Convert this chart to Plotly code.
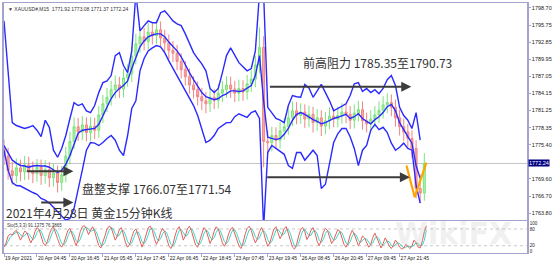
import plotly.graph_objects as go

# ---------------- data (XAUUSD M15, 19-27 Apr 2021) ----------------
# Bollinger bands sampled every 6 M15 bars
bb_upper = [1796.5, 1787.2, 1779.2, 1778.7, 1778.4, 1778.2, 1778.4, 1778.7, 1777.9, 1776.8,
            1779.6, 1778.4, 1774.5, 1773.3, 1774.8, 1777.0, 1779.9, 1782.6, 1782.1, 1782.4,
            1781.2, 1780.9, 1782.1, 1784.3, 1786.0, 1786.3, 1787.2, 1790.6, 1791.1, 1788.9,
            1787.7, 1791.4, 1801.2, 1794.8, 1795.7, 1796.5, 1796.2, 1796.2, 1797.9, 1798.2,
            1797.4, 1796.5, 1796.0, 1795.7, 1794.3, 1792.8, 1791.1, 1790.1, 1789.2, 1788.0,
            1785.0, 1784.3, 1785.0, 1787.7, 1790.6, 1791.9, 1790.6, 1789.4, 1788.7, 1788.0,
            1788.4, 1791.4, 1801.2, 1801.2, 1781.8, 1780.9, 1779.9, 1779.6, 1779.2, 1782.1,
            1783.8, 1783.6, 1783.5, 1785.7, 1785.1, 1783.5, 1784.6, 1785.7, 1784.3, 1782.9,
            1781.2, 1781.6, 1782.1, 1782.4, 1783.8, 1785.8, 1786.0, 1784.5, 1785.0, 1784.3,
            1784.8, 1784.1, 1785.0, 1786.5, 1787.2, 1785.5, 1781.8, 1780.4, 1779.6, 1778.2,
            1780.9, 1776.2]
bb_middle = [1775.3, 1774.1, 1772.8, 1772.3, 1771.9, 1771.8, 1771.6, 1771.8, 1771.9, 1771.8,
             1771.8, 1771.6, 1771.1, 1770.7, 1771.1, 1772.1, 1773.6, 1775.7, 1777.4, 1777.9,
             1778.0, 1778.0, 1778.2, 1778.9, 1780.4, 1782.1, 1783.3, 1784.3, 1785.0, 1785.5,
             1786.3, 1788.4, 1790.1, 1792.1, 1793.1, 1793.8, 1794.1, 1794.3, 1794.3, 1793.8,
             1792.9, 1792.1, 1791.4, 1790.4, 1789.0, 1787.7, 1786.5, 1785.3, 1784.3, 1783.6,
             1783.3, 1783.1, 1783.3, 1783.8, 1784.1, 1784.6, 1784.6, 1784.5, 1784.6, 1785.0,
             1785.5, 1787.2, 1790.6, 1782.9, 1776.7, 1776.5, 1776.3, 1776.5, 1777.2, 1778.2,
             1779.6, 1780.6, 1780.9, 1780.6, 1780.1, 1779.7, 1779.4, 1779.0, 1779.2, 1779.6,
             1779.9, 1780.1, 1780.4, 1780.6, 1779.9, 1780.2, 1780.7, 1779.9, 1779.4, 1779.0,
             1779.7, 1780.2, 1780.9, 1781.9, 1782.3, 1781.2, 1779.2, 1777.9, 1776.8, 1775.7,
             1771.9, 1769.7]
bb_lower = [1774.5, 1771.1, 1769.0, 1768.5, 1768.4, 1768.0, 1767.7, 1767.3, 1767.0, 1766.3,
            1766.0, 1765.5, 1764.8, 1764.0, 1763.3, 1762.6, 1762.9, 1764.6, 1767.7, 1771.1,
            1774.5, 1775.8, 1775.7, 1775.3, 1775.8, 1776.5, 1777.0, 1776.2, 1774.5, 1773.6,
            1777.0, 1781.6, 1782.9, 1788.0, 1790.1, 1791.4, 1791.9, 1792.3, 1792.1, 1791.1,
            1789.7, 1788.4, 1787.2, 1786.0, 1784.6, 1783.3, 1782.1, 1780.4, 1778.2, 1775.8,
            1776.2, 1777.0, 1778.2, 1778.7, 1779.2, 1779.2, 1780.2, 1780.7, 1780.4, 1780.1,
            1780.9, 1781.2, 1779.9, 1761.2, 1774.1, 1775.3, 1774.8, 1774.3, 1773.8, 1771.9,
            1771.4, 1774.1, 1774.1, 1772.8, 1773.6, 1774.5, 1773.6, 1768.0, 1768.7, 1772.4,
            1775.8, 1777.3, 1778.2, 1778.2, 1776.8, 1774.8, 1771.9, 1774.5, 1775.3, 1777.9,
            1778.9, 1778.0, 1778.4, 1777.5, 1775.7, 1774.5, 1775.0, 1775.7, 1774.8, 1774.5,
            1768.5, 1765.5]

# candles sampled every 6 M15 bars (high/low = range of each 6-bar group)
c_open = [1774.8, 1773.5, 1771.0, 1770.2, 1771.5, 1770.8, 1772.0, 1771.0, 1770.5, 1771.6,
          1770.2, 1771.2, 1769.8, 1770.6, 1769.0, 1770.3, 1773.5, 1776.0, 1778.5, 1777.6,
          1778.8, 1777.5, 1778.6, 1777.9, 1780.5, 1782.4, 1783.5, 1784.8, 1785.6, 1784.9,
          1786.8, 1787.5, 1790.5, 1792.6, 1793.8, 1793.0, 1794.6, 1794.0, 1795.0, 1793.6,
          1792.8, 1791.5, 1791.0, 1789.6, 1788.2, 1787.0, 1785.6, 1784.8, 1783.6, 1782.9,
          1782.4, 1783.5, 1783.0, 1784.2, 1784.8, 1785.6, 1784.9, 1784.2, 1785.0, 1784.4,
          1785.8, 1786.6, 1789.0, 1792.0, 1776.0, 1775.8, 1777.0, 1776.2, 1777.8, 1778.5,
          1780.0, 1781.2, 1780.4, 1781.0, 1779.8, 1780.6, 1779.2, 1780.0, 1778.6, 1779.5,
          1780.3, 1779.8, 1780.4, 1781.0, 1780.6, 1779.6, 1780.8, 1781.4, 1779.5, 1779.0,
          1779.8, 1780.5, 1781.3, 1782.2, 1782.6, 1781.8, 1780.0, 1778.5, 1777.6, 1776.5,
          1774.8, 1768.0, 1767.2]
c_high = [1776.3, 1774.9, 1772.5, 1773.1, 1772.9, 1773.5, 1773.4, 1772.6, 1773.0, 1772.9,
          1772.8, 1772.5, 1772.2, 1771.9, 1771.8, 1775.1, 1777.6, 1780.1, 1780.0, 1780.3,
          1780.1, 1780.1, 1780.0, 1782.0, 1783.9, 1785.1, 1786.3, 1787.2, 1787.0, 1788.3,
          1789.1, 1792.2, 1794.3, 1795.4, 1795.3, 1796.2, 1796.1, 1796.7, 1796.4, 1795.0,
          1794.2, 1793.1, 1792.4, 1791.0, 1789.7, 1788.4, 1787.1, 1786.2, 1785.1, 1784.4,
          1785.0, 1784.9, 1785.7, 1786.3, 1787.1, 1787.0, 1786.3, 1786.5, 1786.4, 1787.3,
          1788.1, 1790.6, 1795.4, 1793.9, 1777.9, 1778.5, 1778.4, 1779.3, 1780.0, 1781.6,
          1782.8, 1782.7, 1782.5, 1782.3, 1782.1, 1781.9, 1781.5, 1781.3, 1781.0, 1781.8,
          1781.7, 1781.9, 1782.5, 1782.4, 1782.0, 1782.3, 1782.9, 1782.8, 1780.9, 1781.3,
          1782.0, 1782.8, 1783.7, 1784.2, 1784.0, 1783.1, 1781.4, 1779.9, 1779.0, 1777.9,
          1776.2, 1770.4, 1774.0]
c_low = [1772.0, 1769.5, 1768.6, 1768.9, 1769.2, 1769.4, 1769.5, 1768.9, 1769.1, 1768.6,
         1768.8, 1768.2, 1768.3, 1767.3, 1767.6, 1769.0, 1772.1, 1774.7, 1776.1, 1776.2,
         1776.0, 1776.1, 1776.4, 1776.6, 1779.1, 1781.0, 1782.1, 1783.3, 1783.4, 1783.5,
         1785.3, 1786.1, 1789.1, 1791.1, 1791.5, 1791.6, 1792.5, 1792.6, 1792.1, 1791.2,
         1790.0, 1789.5, 1788.1, 1786.7, 1785.5, 1784.1, 1783.3, 1782.1, 1781.3, 1780.8,
         1781.0, 1781.5, 1781.6, 1782.7, 1783.4, 1783.4, 1782.7, 1782.8, 1782.9, 1783.1,
         1784.4, 1785.2, 1787.6, 1771.6, 1773.7, 1774.3, 1774.7, 1774.8, 1776.3, 1777.1,
         1778.6, 1778.9, 1779.0, 1778.3, 1778.4, 1777.5, 1777.8, 1776.9, 1777.2, 1778.1,
         1778.4, 1778.4, 1779.0, 1779.1, 1778.1, 1778.2, 1779.4, 1778.0, 1777.5, 1777.6,
         1778.4, 1779.1, 1779.9, 1780.8, 1780.3, 1778.5, 1777.0, 1776.1, 1774.9, 1773.1,
         1766.3, 1765.5, 1765.9]
c_close = [1773.5, 1771.0, 1770.2, 1771.5, 1770.8, 1772.0, 1771.0, 1770.5, 1771.6, 1770.2,
           1771.2, 1769.8, 1770.6, 1769.0, 1770.3, 1773.5, 1776.0, 1778.5, 1777.6, 1778.8,
           1777.5, 1778.6, 1777.9, 1780.5, 1782.4, 1783.5, 1784.8, 1785.6, 1784.9, 1786.8,
           1787.5, 1790.5, 1792.6, 1793.8, 1793.0, 1794.6, 1794.0, 1795.0, 1793.6, 1792.8,
           1791.5, 1791.0, 1789.6, 1788.2, 1787.0, 1785.6, 1784.8, 1783.6, 1782.9, 1782.4,
           1783.5, 1783.0, 1784.2, 1784.8, 1785.6, 1784.9, 1784.2, 1785.0, 1784.4, 1785.8,
           1786.6, 1789.0, 1792.0, 1776.0, 1775.8, 1777.0, 1776.2, 1777.8, 1778.5, 1780.0,
           1781.2, 1780.4, 1781.0, 1779.8, 1780.6, 1779.2, 1780.0, 1778.6, 1779.5, 1780.3,
           1779.8, 1780.4, 1781.0, 1780.6, 1779.6, 1780.8, 1781.4, 1779.5, 1779.0, 1779.8,
           1780.5, 1781.3, 1782.2, 1782.6, 1781.8, 1780.0, 1778.5, 1777.6, 1776.5, 1774.8,
           1768.0, 1767.2, 1772.2]

# Stochastic (5,3,3) sampled every 3 M15 bars
sto_main = [15, 30, 55, 62, 58, 70, 75, 60, 40, 55,
            72, 68, 50, 30, 45, 70, 85, 78, 55, 30,
            20, 35, 60, 80, 88, 70, 45, 25, 15, 28,
            55, 75, 82, 60, 35, 20, 40, 70, 88, 92,
            80, 60, 75, 88, 70, 40, 20, 12, 30, 55,
            80, 90, 85, 65, 40, 55, 78, 85, 60, 30,
            15, 25, 50, 72, 80, 58, 30, 15, 35, 65,
            85, 90, 75, 45, 25, 40, 68, 82, 70, 45,
            20, 10, 25, 55, 78, 88, 70, 40, 55, 80,
            90, 72, 45, 22, 15, 38, 65, 85, 78, 50,
            28, 45, 72, 88, 80, 55, 30, 18, 35, 62,
            80, 85, 65, 38, 20, 10, 30, 60, 82, 90,
            75, 50, 30, 45, 70, 85, 68, 40, 18, 30,
            58, 80, 88, 70, 45, 60, 82, 88, 65, 35,
            15, 8, 25, 55, 78, 85, 70, 42, 55, 75,
            85, 65, 35, 20, 40, 68, 82, 75, 50, 28,
            40, 62, 78, 72, 50, 25, 15, 30, 58, 75,
            62, 38, 20, 35, 55, 48, 30, 15, 25, 50,
            65, 45, 25, 12, 28, 48, 35, 18, 10, 22,
            40, 30, 15, 8, 12, 25, 18, 10, 20, 40,
            30, 15, 12, 35, 70, 91]
sto_signal = [20, 22, 35, 50, 58, 63, 68, 68, 58, 52,
              56, 65, 63, 50, 42, 48, 67, 78, 73, 54,
              35, 28, 38, 58, 76, 80, 68, 47, 28, 23,
              33, 53, 71, 72, 59, 38, 32, 43, 66, 83,
              87, 77, 72, 74, 78, 66, 43, 24, 21, 32,
              55, 75, 85, 80, 63, 53, 58, 73, 74, 58,
              35, 23, 30, 49, 67, 70, 56, 34, 27, 38,
              62, 80, 83, 70, 48, 37, 44, 63, 73, 66,
              45, 25, 18, 30, 53, 74, 79, 66, 55, 58,
              75, 81, 69, 46, 27, 25, 39, 63, 76, 71,
              52, 41, 48, 68, 80, 74, 55, 34, 28, 38,
              59, 76, 77, 63, 41, 23, 20, 33, 57, 77,
              82, 72, 52, 42, 48, 67, 74, 64, 42, 29,
              35, 56, 75, 79, 68, 58, 62, 77, 78, 63,
              38, 19, 16, 29, 53, 73, 78, 66, 56, 57,
              72, 75, 62, 40, 32, 43, 63, 75, 69, 51,
              39, 43, 60, 71, 67, 49, 30, 23, 34, 54,
              65, 58, 40, 31, 37, 46, 44, 31, 23, 30,
              47, 53, 45, 27, 22, 29, 37, 34, 21, 17,
              24, 31, 28, 18, 12, 15, 18, 18, 16, 23,
              30, 28, 19, 21, 39, 76]

time_labels = ["19 Apr 2021", "20 Apr 04:45", "20 Apr 16:45", "21 Apr 05:45", "21 Apr 17:45",
               "22 Apr 06:45", "22 Apr 18:45", "23 Apr 07:45", "23 Apr 19:45", "26 Apr 08:45",
               "26 Apr 20:45", "27 Apr 09:45", "27 Apr 21:45"]
price_ticks = [1798.70, 1795.75, 1792.85, 1789.95, 1787.05, 1784.15, 1781.25, 1778.35,
               1775.40, 1769.60, 1766.70, 1763.80]
sto_ticks = [0, 20, 80, 100]
last_price = 1772.24
header_values = [1771.92, 1773.08, 1771.37, 1772.24]
sto_last = [91.1375, 76.3865]

# hand-drawn analysis marks (bar index, price)
arrow_start = [31, 52, 385, 381]
arrow_end = [101, 101, 593, 591]
arrow_price = [1770.9, 1765.6, 1785.3, 1769.9]
v_bars = [586, 598, 615]
v_prices = [1771.9, 1766.5, 1772.4]
notes = ["前高阻力 1785.35至1790.73", "盘整支撑 1766.07至1771.54", "2021年4月28日 黄金15分钟K线"]
note_bars = [432, 111, 0]
note_prices = [1789.4, 1768.0, 1763.9]

BAND_STEP = 6
STO_STEP = 3
BARS_PER_LABEL = 48
X_RANGE = [0, 761.5]

band_x = [BAND_STEP * i for i in range(len(bb_upper))]
candle_x = [BAND_STEP * i for i in range(len(c_close))]
sto_x = [STO_STEP * i for i in range(len(sto_main))]
tick_x = [BARS_PER_LABEL * i for i in range(len(time_labels))]

FRAME = "#a3a3cf"
BLUE = "#2a2aff"
CJK = "Noto Sans CJK SC"
SMALL = "Liberation Sans"

fig = go.Figure()

fig.add_trace(go.Candlestick(
    x=candle_x, open=c_open, high=c_high, low=c_low, close=c_close,
    increasing=dict(line=dict(color="#6fe06f", width=1), fillcolor="#a2f2a2"),
    decreasing=dict(line=dict(color="#f07878", width=1), fillcolor="#f5a0a0"),
    whiskerwidth=0, opacity=0.9, showlegend=False, hoverinfo="skip",
    xaxis="x", yaxis="y"))

for band in (bb_upper, bb_middle, bb_lower):
    fig.add_trace(go.Scatter(x=band_x, y=band, mode="lines",
                             line=dict(color=BLUE, width=1.4),
                             showlegend=False, hoverinfo="skip", xaxis="x", yaxis="y"))

fig.add_trace(go.Scatter(x=v_bars, y=v_prices, mode="lines",
                         line=dict(color="#ffa500", width=2.2),
                         showlegend=False, hoverinfo="skip", xaxis="x", yaxis="y"))

fig.add_trace(go.Scatter(x=sto_x, y=sto_signal, mode="lines",
                         line=dict(color="#3fd6c6", width=1),
                         showlegend=False, hoverinfo="skip", xaxis="x2", yaxis="y2"))
fig.add_trace(go.Scatter(x=sto_x, y=sto_main, mode="lines",
                         line=dict(color="#e0605a", width=1),
                         showlegend=False, hoverinfo="skip", xaxis="x2", yaxis="y2"))

shapes = [
    dict(type="line", xref="x domain", yref="y", x0=0, x1=1, y0=last_price, y1=last_price,
         line=dict(color="#c4c4c4", width=1), layer="below"),
]
for lvl in (20, 80):
    shapes.append(dict(type="line", xref="x2 domain", yref="y2", x0=0, x1=1, y0=lvl, y1=lvl,
                       line=dict(color="#c8c8c8", width=1, dash="dot"), layer="below"))

annotations = []
for xs, xe, p in zip(arrow_start, arrow_end, arrow_price):
    annotations.append(dict(x=xe, y=p, ax=xs, ay=p, xref="x", yref="y", axref="x", ayref="y",
                            text="", showarrow=True, arrowhead=2, arrowsize=1,
                            arrowwidth=2, arrowcolor="#3c3c3c"))
for t, xb, p in zip(notes, note_bars, note_prices):
    annotations.append(dict(x=xb, y=p, xref="x", yref="y", text=t, showarrow=False,
                            xanchor="left", yanchor="middle",
                            font=dict(family=CJK, size=12, color="#333333")))

annotations.append(dict(
    x=0, y=1, xref="paper", yref="paper", xanchor="left", yanchor="top", xshift=2, yshift=-1,
    text="▼ XAUUSD#,M15  " + " ".join(f"{v:.2f}" for v in header_values),
    showarrow=False, font=dict(family=SMALL, size=5, color="#333333")))
annotations.append(dict(
    x=0, y=1, xref="x2 domain", yref="y2 domain", xanchor="left", yanchor="top", xshift=1,
    text=f"Sto(5,3,3) {sto_last[0]:.4f} {sto_last[1]:.4f}",
    showarrow=False, font=dict(family=SMALL, size=4.5, color="#333333")))
annotations.append(dict(
    x=1, y=last_price, xref="paper", yref="y", xanchor="left", yanchor="middle", xshift=1,
    text=f"{last_price:.2f}", showarrow=False, bgcolor="#000080", borderpad=0,
    font=dict(family=SMALL, size=5.5, color="white")))
annotations.append(dict(
    x=0.86, y=0.08, xref="paper", yref="paper", xanchor="center", yanchor="middle",
    text="<b>WikiFX</b>", showarrow=False,
    font=dict(family="DejaVu Sans", size=30, color="rgba(190,190,190,0.22)")))

fig.update_layout(
    width=554, height=265,
    margin=dict(l=2, r=22, t=2, b=12),
    paper_bgcolor="white", plot_bgcolor="white",
    showlegend=False,
    shapes=shapes, annotations=annotations,
    xaxis=dict(domain=[0, 1], anchor="y", range=X_RANGE, showticklabels=False,
               showgrid=False, zeroline=False, showline=True, mirror=True,
               linecolor=FRAME, linewidth=1, rangeslider=dict(visible=False), ticks=""),
    yaxis=dict(domain=[0.1315, 1], anchor="x", range=[1762.6, 1799.55], side="right",
               tickvals=price_ticks, ticktext=[f"{v:.2f}" for v in price_ticks],
               tickfont=dict(family=SMALL, size=5.5, color="#222222"),
               ticks="outside", ticklen=2, tickcolor=FRAME,
               showgrid=False, zeroline=False, showline=True, mirror=True,
               linecolor=FRAME, linewidth=1.5),
    xaxis2=dict(domain=[0, 1], anchor="y2", range=X_RANGE,
                tickvals=tick_x, ticktext=time_labels, ticklabelposition="outside right",
                tickangle=0, tickfont=dict(family=SMALL, size=5, color="#222222"),
                ticks="outside", ticklen=3, tickcolor=FRAME,
                showgrid=False, zeroline=False, showline=True, mirror=True,
                linecolor=FRAME, linewidth=1),
    yaxis2=dict(domain=[0, 0.1275], anchor="x2", range=[-6, 108], side="right",
                tickvals=sto_ticks, ticktext=[str(v) for v in sto_ticks],
                tickfont=dict(family=SMALL, size=4.5, color="#222222"),
                ticks="", showgrid=False, zeroline=False, showline=True, mirror=True,
                linecolor=FRAME, linewidth=1.5),
)

fig.write_html("out.html")
